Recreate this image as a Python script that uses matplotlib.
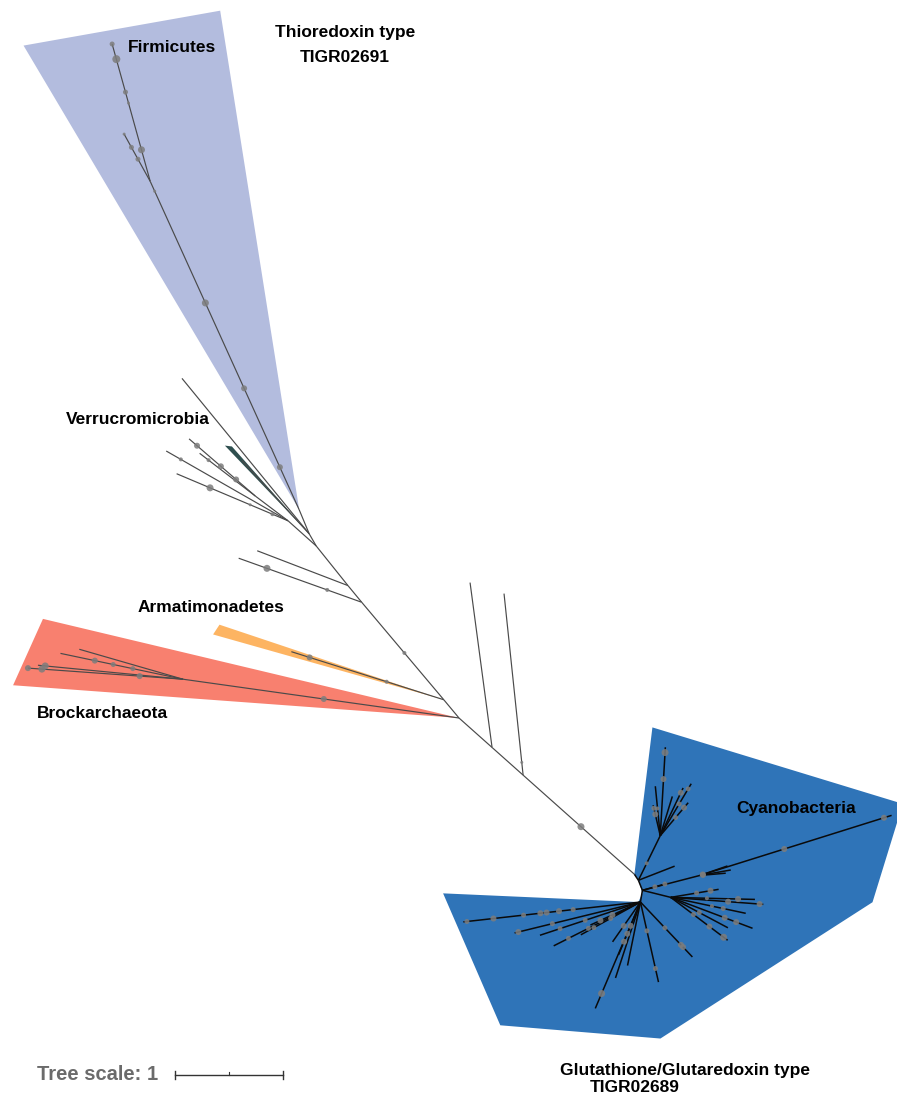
import numpy as np
import matplotlib
matplotlib.use("Agg")
import matplotlib.pyplot as plt
from matplotlib.patches import Polygon

plt.rcParams["font.family"] = ["Liberation Sans", "DejaVu Sans"]

PX_PER_UNIT = 108.0          # canvas length of one tree-scale unit
ROOT_XY = (459.0, 718.0)     # where the layout starts (canvas px, y down)

# branches: (child, parent, length [tree units], direction [deg, 0 = right, 90 = up])
backbone = [
    ("bb1", "root", 0.41, -41.7),
    ("bb2", "bb1", 0.385, -41.7),
    ("cy_base", "bb2", 1.38, -41.7),
    ("long1", "bb1", 1.54, 97.6),
    ("long2", "bb2", 1.69, 96.0),
    ("arm_join", "root", 0.22, 129.8),
    ("bb3", "arm_join", 1.18, 130.1),
    ("bb4", "bb3", 0.20, 129.5),
    ("bb5", "bb4", 0.47, 128.7),
    ("bb6", "bb5", 0.13, 120.0),
    ("firm_base", "bb6", 0.24, 112.6),
    ("side1", "bb3", 1.21, 160.3),
    ("side2", "bb4", 0.90, 159.0),
    ("arm_leaf", "arm_join", 1.48, 162.5),
]
brockarchaeota = [
    ("br_node", "root", 2.58, 172.0),
    ("br_a", "br_node", 1.44, 175.9),
    ("br_b", "br_node", 1.35, 174.5),
    ("br_c", "br_node", 1.16, 168.1),
    ("br_d", "br_node", 1.00, 163.9),
]
verrucomicrobia = [
    ("v1", "bb5", 0.35, 138.2),
    ("v_a", "v1", 1.12, 157.1),
    ("v_b", "v1", 1.30, 150.2),
    ("v2", "v1", 0.38, 142.9),
    ("v_c", "v2", 0.81, 139.2),
    ("v_d", "v2", 0.65, 142.5),
    ("v_green", "bb6", 0.92, 132.5),
    ("v_long", "bb6", 1.86, 129.3),
]
firmicutes = [
    ("f1", "firm_base", 3.34, 114.4),
    ("f_tip", "f1", 1.32, 105.5),
    ("f_sub", "f1", 0.50, 118.9),
]
cyanobacteria = [
    ("c1", "cy_base", 0.067, -56.3),
    ("cu", "c1", 0.46, 63.9),
    ("cu_a", "cu", 0.82, 86.7),
    ("cu_b", "cu", 0.46, 95.7),
    ("cu_c", "cu", 0.29, 103.1),
    ("cu_d", "cu", 0.56, 59.2),
    ("cu_e", "cu", 0.40, 49.7),
    ("cu_f", "cu", 0.49, 64.4),
    ("cu_g", "cu", 0.38, 72.9),
    ("c_short", "c1", 0.36, 21.3),
    ("c2", "c1", 0.10, -68.2),
    ("c3", "c2", 0.55, 14.5),
    ("c3_long", "c3", 1.86, 17.4),
    ("c3_a", "c3", 0.27, 19.0),
    ("c3_b", "c3", 0.29, 10.0),
    ("c3_c", "c3", 0.24, 5.0),
    ("c2_a", "c2", 0.24, 15.6),
    ("c4", "c2", 0.27, -14.0),
    ("c4_a", "c4", 0.45, 9.5),
    ("c4_b", "c4", 0.78, -1.4),
    ("c4_c", "c4", 0.86, -4.3),
    ("c4_d", "c4", 0.71, -12.0),
    ("c4_e", "c4", 0.81, -20.7),
    ("c4_f", "c4", 0.66, -37.0),
    ("c4_g", "c4", 0.60, -28.0),
    ("c5", "c2", 0.11, -99.5),
    ("c5_a", "c5", 0.70, -46.6),
    ("c5_b", "c5", 0.76, -77.3),
    ("c5_c", "c5", 1.07, -113.0),
    ("c5_d", "c5", 0.74, -108.2),
    ("c5_e", "c5", 0.60, -101.5),
    ("c5_f", "c5", 0.53, -112.5),
    ("c5_g", "c5", 1.65, -173.6),
    ("c5_h", "c5", 1.20, -166.2),
    ("c5_i", "c5", 0.90, -153.2),
    ("c5_j", "c5", 0.63, -151.2),
    ("c5_k", "c5", 0.51, -155.3),
    ("c5_l", "c5", 0.98, -161.7),
    ("c5_m", "c5", 0.45, -125.0),
]

# support circles: (branch, position along branch, diameter px)
support = [
    ("cy_base", 0.52, 7), ("long2", 0.07, 3), ("bb3", 0.48, 4),
    ("side1", 0.28, 4), ("side1", 0.77, 7),
    ("arm_leaf", 0.375, 4), ("arm_leaf", 0.88, 6),
    ("br_node", 0.49, 6), ("br_a", 0.28, 6), ("br_a", 0.91, 7), ("br_a", 1.0, 6),
    ("br_b", 0.95, 7), ("br_c", 0.41, 5), ("br_c", 0.57, 5), ("br_c", 0.72, 6),
    ("v_a", 0.14, 4), ("v_a", 0.34, 3), ("v_a", 0.70, 7), ("v_b", 0.88, 4),
    ("v_c", 0.29, 6), ("v_c", 0.52, 6), ("v_c", 0.88, 6), ("v_d", 0.84, 4),
    ("f1", 0.13, 6), ("f1", 0.37, 6), ("f1", 0.63, 7), ("f1", 0.97, 3),
    ("f_tip", 0.23, 7), ("f_tip", 0.57, 3), ("f_tip", 0.65, 5), ("f_tip", 0.89, 8),
    ("f_tip", 1.0, 5), ("f_sub", 0.47, 5), ("f_sub", 0.72, 5), ("f_sub", 1.0, 3),
    ("cu", 0.38, 4), ("cu_a", 0.64, 6), ("cu_a", 0.94, 7), ("cu_b", 0.55, 4),
    ("cu_c", 0.7, 6), ("cu_c", 0.9, 5), ("cu_d", 0.61, 5), ("cu_d", 0.9, 5),
    ("cu_e", 0.55, 5), ("cu_e", 0.85, 6), ("cu_f", 0.9, 6),
    ("c3_long", 0.44, 6), ("c3_long", 0.96, 6), ("c3_a", 0.1, 6), ("c3_b", 0.1, 6),
    ("c2_a", 0.5, 5), ("c2_a", 0.9, 5),
    ("c4_a", 0.54, 5), ("c4_a", 0.83, 6), ("c4_b", 0.43, 4), ("c4_b", 0.80, 6),
    ("c4_c", 0.62, 6), ("c4_c", 0.96, 6), ("c4_d", 0.55, 4), ("c4_d", 0.7, 5),
    ("c4_e", 0.66, 6), ("c4_e", 0.8, 6), ("c4_f", 0.4, 5), ("c4_f", 0.68, 6),
    ("c4_f", 0.93, 7), ("c4_g", 0.5, 5),
    ("c5_a", 0.47, 5), ("c5_a", 0.78, 6), ("c5_a", 0.82, 6),
    ("c5_b", 0.36, 5), ("c5_b", 0.83, 5), ("c5_c", 0.86, 7),
    ("c5_f", 0.45, 6), ("c5_f", 0.6, 6), ("c5_f", 0.75, 6),
    ("c5_g", 0.38, 5), ("c5_g", 0.46, 6), ("c5_g", 0.53, 6), ("c5_g", 0.565, 6),
    ("c5_g", 0.66, 5), ("c5_g", 0.83, 6), ("c5_g", 0.98, 5),
    ("c5_h", 0.70, 5), ("c5_h", 0.97, 6), ("c5_i", 0.6, 5), ("c5_i", 0.83, 5),
    ("c5_j", 0.5, 5), ("c5_j", 0.78, 5), ("c5_k", 0.56, 6), ("c5_k", 0.8, 6),
    ("c5_l", 0.55, 5), ("c5_l", 0.8, 5), ("c5_m", 0.6, 6),
]

# clade wedges: (apex node, (dir, len), (dir, len), colour)
wedges = [
    ("firm_base", (120.7, 5.00), (99.0, 4.68), "#b3bcde"),
    ("root", (175.8, 4.14), (166.6, 3.96), "#f8806f"),
    ("arm_join", (161.5, 2.19), (164.2, 2.22), "#fdb462"),
    ("bb6", (133.7, 1.13), (131.5, 1.08), "#2f4f4f"),
]
# cyanobacteria clade outline, polar around its base node
cyano_hull = [(83.0, 1.37), (14.7, 2.57), (-6.7, 2.22), (-81.0, 1.54),
              (-131.6, 1.87), (-174.3, 1.78), (-81.9, 0.26), (-67.2, 0.19),
              (-51.3, 0.06), (0.0, 0.0)]

clade_labels = [
    ("Thioredoxin type", 345, 32, "center"),
    ("TIGR02691", 345, 57, "center"),
    ("Firmicutes", 128, 47, "left"),
    ("Verrucromicrobia", 66, 420, "left"),
    ("Armatimonadetes", 138, 607, "left"),
    ("Brockarchaeota", 37, 713, "left"),
    ("Cyanobacteria", 736, 808, "left"),
    ("Glutathione/Glutaredoxin type", 560, 1070, "left"),
    ("TIGR02689", 590, 1087, "left"),
]


def offset(xy, angle, length):
    a = np.deg2rad(angle)
    return (xy[0] + length * PX_PER_UNIT * np.cos(a),
            xy[1] - length * PX_PER_UNIT * np.sin(a))


groups = [backbone, brockarchaeota, verrucomicrobia, firmicutes, cyanobacteria]
pos = {"root": ROOT_XY}
parent_of = {}
for edges in groups:
    for child, parent, length, angle in edges:
        pos[child] = offset(pos[parent], angle, length)
        parent_of[child] = parent

fig = plt.figure(figsize=(8.97, 10.95), dpi=100)
ax = fig.add_axes([0, 0, 1, 1])
ax.set_xlim(0, 897)
ax.set_ylim(1095, 0)
ax.axis("off")

for apex, (a1, l1), (a2, l2), color in wedges:
    p0 = pos[apex]
    pts = [p0, offset(p0, a1, l1), offset(p0, a2, l2)]
    ax.add_patch(Polygon(pts, closed=True, facecolor=color, edgecolor="none", zorder=1))

base = pos["cy_base"]
hull = [offset(base, a, r) for a, r in cyano_hull]
ax.add_patch(Polygon(hull, closed=True, facecolor="#2f74b8", edgecolor="none", zorder=1))

for edges in groups:
    dark = edges is cyanobacteria
    for child, parent, _, _ in edges:
        x0, y0 = pos[parent]
        x1, y1 = pos[child]
        ax.plot([x0, x1], [y0, y1], color="#0a0a0a" if dark else "#4a4a4a",
                lw=1.1 if dark else 0.85, solid_capstyle="butt", zorder=2)

sx, sy, ss = [], [], []
for branch, frac, d in support:
    x0, y0 = pos[parent_of[branch]]
    x1, y1 = pos[branch]
    sx.append(x0 + frac * (x1 - x0))
    sy.append(y0 + frac * (y1 - y0))
    ss.append((d * 0.72) ** 2)
ax.scatter(sx, sy, s=ss, color="#7d7d7d", alpha=0.85, linewidths=0, zorder=3)

for text, x, y, ha in clade_labels:
    ax.text(x, y, text, ha=ha, va="center", fontsize=12.5, fontweight="bold",
            color="black", zorder=4)

# tree scale bar
bx, by = 175, 1075
ax.text(37, by, "Tree scale: 1", ha="left", va="center", fontsize=14.5,
        fontweight="bold", color="#6b6b6b")
ax.plot([bx, bx + PX_PER_UNIT], [by, by], color="#333333", lw=1.0)
for tx in (bx, bx + PX_PER_UNIT):
    ax.plot([tx, tx], [by - 4, by + 4], color="#333333", lw=1.0)
ax.plot([bx + PX_PER_UNIT / 2] * 2, [by, by - 3], color="#333333", lw=0.8)

fig.savefig("out.png", dpi=100)
